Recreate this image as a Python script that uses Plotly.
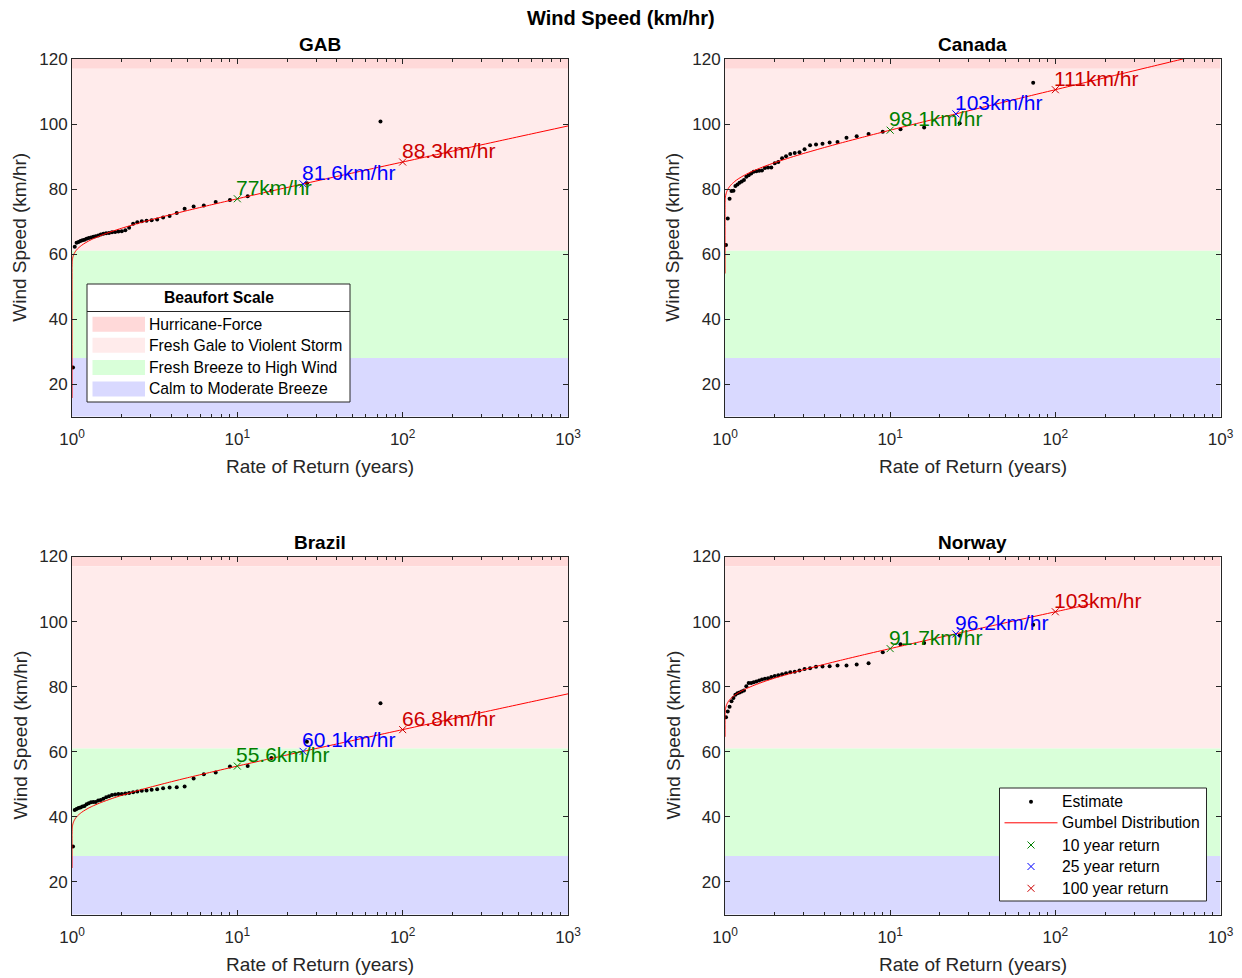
import math
import plotly.graph_objects as go

# ---------------- data ----------------
countries = ["GAB", "Canada", "Brazil", "Norway"]

# empirical return periods (years) of the ranked annual maxima (rank 1 = largest)
estimate_return_period = [73.43, 26.36, 16.06, 11.55, 9.02, 7.40, 6.27, 5.44, 4.80, 4.30,
                          3.894, 3.557, 3.274, 3.032, 2.824, 2.643, 2.483, 2.342, 2.216, 2.102,
                          2.000, 1.907, 1.823, 1.745, 1.674, 1.609, 1.548, 1.492, 1.440, 1.391,
                          1.346, 1.303, 1.263, 1.225, 1.190, 1.156, 1.125, 1.095, 1.066, 1.039, 1.014]

estimate_speed_gab = [100.8, 81.8, 79.5, 77.8, 76.6, 76.0, 74.9, 74.6, 73.9, 72.6,
                      71.7, 71.2, 70.6, 70.4, 70.2, 70.1, 69.8, 69.3, 68.1, 67.3,
                      67.0, 66.9, 66.8, 66.7, 66.5, 66.4, 66.2, 66.0, 65.7, 65.5,
                      65.3, 65.1, 64.9, 64.7, 64.4, 64.2, 64.0, 63.7, 63.5, 62.2, 25.1]
estimate_speed_canada = [112.7, 100.2, 98.9, 98.4, 97.6, 96.9, 96.2, 95.8, 94.5, 94.3,
                         93.9, 93.7, 93.5, 92.2, 91.3, 91.1, 90.8, 90.1, 89.5, 88.3,
                         87.9, 86.6, 86.6, 86.5, 85.7, 85.6, 85.5, 85.3, 84.8, 84.2,
                         83.8, 82.8, 82.3, 81.9, 81.4, 80.9, 79.5, 79.4, 77.0, 70.9, 62.8]
estimate_speed_brazil = [74.9, 63.1, 58.1, 55.6, 55.5, 53.6, 53.1, 51.8, 49.3, 49.1,
                         49.0, 48.8, 48.5, 48.3, 48.1, 48.0, 47.8, 47.6, 47.3, 47.2,
                         47.0, 47.0, 46.9, 46.7, 46.3, 46.0, 45.6, 45.2, 45.0, 44.6,
                         44.6, 44.5, 44.2, 43.9, 43.3, 43.2, 42.9, 42.7, 42.4, 42.1, 30.9]
estimate_speed_norway = [99.0, 95.7, 93.4, 93.0, 90.6, 87.2, 86.8, 86.5, 86.5, 86.3,
                         86.2, 86.1, 85.7, 85.4, 85.0, 84.6, 84.4, 84.1, 83.8, 83.5,
                         83.3, 83.0, 82.6, 82.4, 82.2, 81.9, 81.6, 81.4, 81.1, 81.1,
                         80.1, 78.8, 78.5, 78.2, 78.0, 77.5, 76.5, 75.5, 73.8, 72.4, 70.6]

# fitted Gumbel curve (return period in years, wind speed km/hr)
gumbel_return_period = [1, 1.0001, 1.001, 1.003, 1.01, 1.02, 1.03, 1.045, 1.06, 1.08,
                        1.1, 1.15, 1.2, 1.27, 1.35, 1.5, 1.75, 2, 2.5, 3,
                        4, 5, 7, 10, 15, 25, 40, 60, 100, 160,
                        250, 400, 600, 1000]
gumbel_return_period_norway = [1, 1.0001, 1.001, 1.003, 1.01, 1.02, 1.03, 1.045, 1.06, 1.08,
                               1.1, 1.15, 1.2, 1.27, 1.35, 1.5, 1.75, 2, 2.5, 3,
                               4, 5, 7, 10, 15, 25, 40, 60, 100, 160, 166]
gumbel_speed_gab = [15.7, 55.50, 56.89, 57.72, 58.83, 59.60, 60.11, 60.67, 61.11, 61.58,
                    61.97, 62.76, 63.38, 64.08, 64.74, 65.73, 66.98, 67.94, 69.41, 70.52,
                    72.17, 73.39, 75.17, 77.00, 79.04, 81.56, 83.86, 85.83, 88.30, 90.57,
                    92.72, 94.99, 96.94, 99.40]
gumbel_speed_canada = [54.0, 74.40, 75.93, 76.84, 78.07, 78.91, 79.48, 80.10, 80.58, 81.10,
                       81.53, 82.40, 83.08, 83.85, 84.58, 85.67, 87.05, 88.11, 89.73, 90.95,
                       92.77, 94.12, 96.08, 98.10, 100.34, 103.12, 105.65, 107.83, 110.55, 113.05,
                       115.42, 117.92, 120.07, 122.78]
gumbel_speed_brazil = [24.3, 34.29, 35.66, 36.48, 37.58, 38.34, 38.85, 39.41, 39.84, 40.31,
                       40.70, 41.48, 42.09, 42.79, 43.44, 44.42, 45.66, 46.62, 48.07, 49.17,
                       50.81, 52.02, 53.78, 55.60, 57.62, 60.12, 62.40, 64.35, 66.80, 69.05,
                       71.18, 73.43, 75.36, 77.80]
gumbel_speed_norway = [64.6, 70.20, 71.58, 72.41, 73.52, 74.30, 74.80, 75.37, 75.81, 76.28,
                       76.67, 77.46, 78.07, 78.78, 79.44, 80.43, 81.68, 82.64, 84.11, 85.22,
                       86.87, 88.09, 89.87, 91.70, 93.74, 96.26, 98.56, 100.53, 103.01, 105.28, 105.45]

# return levels
return_years = [10, 25, 100]
return_names = ["10 year return", "25 year return", "100 year return"]
return_speed_gab = [77.0, 81.56, 88.30]
return_speed_canada = [98.10, 103.12, 110.55]
return_speed_brazil = [55.60, 60.12, 66.80]
return_speed_norway = [91.70, 96.20, 103.01]
return_label_gab = ["77km/hr", "81.6km/hr", "88.3km/hr"]
return_label_canada = ["98.1km/hr", "103km/hr", "111km/hr"]
return_label_brazil = ["55.6km/hr", "60.1km/hr", "66.8km/hr"]
return_label_norway = ["91.7km/hr", "96.2km/hr", "103km/hr"]

# Beaufort scale bands (km/hr)
beaufort_names = ["Hurricane-Force", "Fresh Gale to Violent Storm",
                  "Fresh Breeze to High Wind", "Calm to Moderate Breeze"]
beaufort_low = [117, 61, 28, 0]
beaufort_high = [300, 117, 61, 28]

x_tick_values = [1, 10, 100, 1000]
x_tick_labels = ["10<sup>0</sup>", "10<sup>1</sup>", "10<sup>2</sup>", "10<sup>3</sup>"]
x_minor_values = [2, 3, 4, 5, 6, 7, 8, 9, 20, 30, 40, 50, 60, 70, 80, 90,
                  200, 300, 400, 500, 600, 700, 800, 900]
y_tick_values = [20, 40, 60, 80, 100, 120]
x_range_years = [1, 1000]
y_range = [10, 120]

# ---------------- styles ----------------
FONT = "Liberation Sans, Arial, Helvetica, sans-serif"
AX = "#262626"
band_colors = ["rgb(255,217,217)", "rgb(255,235,235)", "rgb(217,255,217)", "rgb(217,217,255)"]
return_colors = ["rgb(0,128,0)", "rgb(0,0,255)", "rgb(204,0,0)"]
curve_color = "rgb(255,0,0)"
PAGE_OFFSET = 8            # the page body margin around the figure
W, H = 1242 - PAGE_OFFSET, 978 - PAGE_OFFSET


def px(x):
    return (x - PAGE_OFFSET) / W


def py(y):
    return 1 - (y - PAGE_OFFSET) / H


estimates = [estimate_speed_gab, estimate_speed_canada, estimate_speed_brazil, estimate_speed_norway]
gumbel_T = [gumbel_return_period, gumbel_return_period, gumbel_return_period, gumbel_return_period_norway]
gumbel_v = [gumbel_speed_gab, gumbel_speed_canada, gumbel_speed_brazil, gumbel_speed_norway]
ret_v = [return_speed_gab, return_speed_canada, return_speed_brazil, return_speed_norway]
ret_l = [return_label_gab, return_label_canada, return_label_brazil, return_label_norway]

# plot-area boxes in window pixels (left, right, top, bottom)
boxes = [(72, 568, 59, 416.5), (725, 1220.5, 59, 416.5),
         (72, 568, 556.5, 914.5), (725, 1220.5, 556.5, 914.5)]

fig = go.Figure()
annotations = []
shapes = []
layout_axes = {}

for i, name in enumerate(countries):
    n = i + 1
    xa = "x" if n == 1 else f"x{n}"
    ya = "y" if n == 1 else f"y{n}"
    for b in range(4):
        fig.add_trace(go.Scatter(
            x=[x_range_years[0], x_range_years[1], x_range_years[1], x_range_years[0], x_range_years[0]],
            y=[beaufort_low[b], beaufort_low[b], beaufort_high[b], beaufort_high[b], beaufort_low[b]],
            fill="toself", fillcolor=band_colors[b], mode="lines", line=dict(width=0, color=band_colors[b]),
            name=beaufort_names[b], showlegend=False, hoverinfo="skip", xaxis=xa, yaxis=ya))
    fig.add_trace(go.Scatter(x=estimate_return_period, y=estimates[i], mode="markers",
                             marker=dict(color="black", size=4), name="Estimate",
                             showlegend=False, xaxis=xa, yaxis=ya))
    fig.add_trace(go.Scatter(x=gumbel_T[i], y=gumbel_v[i], mode="lines",
                             line=dict(color=curve_color, width=1, shape="spline", smoothing=0.6),
                             name="Gumbel Distribution", showlegend=False, xaxis=xa, yaxis=ya))
    for k in range(3):
        fig.add_trace(go.Scatter(x=[return_years[k]], y=[ret_v[i][k]], mode="markers",
                                 marker=dict(symbol="x-thin", size=7,
                                             line=dict(color=return_colors[k], width=1)),
                                 name=return_names[k], showlegend=False, xaxis=xa, yaxis=ya))
        annotations.append(dict(x=math.log10(return_years[k]), y=ret_v[i][k], xref=xa, yref=ya,
                                text=ret_l[i][k], showarrow=False, xanchor="left", yanchor="bottom",
                                xshift=-3, yshift=-2,
                                font=dict(family=FONT, size=21, color=return_colors[k])))

    l, r, t, btm = boxes[i]
    axkey = "" if n == 1 else str(n)
    layout_axes["xaxis" + axkey] = dict(
        type="log", domain=[px(l), px(r)], range=[0, 3], anchor=ya, automargin=False,
        tickvals=x_tick_values, ticktext=x_tick_labels, ticks="inside", ticklen=5,
        ticklabelstandoff=7,
        tickcolor=AX, showline=True, linecolor=AX, linewidth=1, mirror="ticks",
        showgrid=False, zeroline=False, tickfont=dict(family=FONT, size=17, color=AX),
        minor=dict(ticks="inside", ticklen=3, tickcolor=AX, tickvals=x_minor_values, showgrid=False))
    layout_axes["yaxis" + axkey] = dict(
        domain=[py(btm), py(t)], range=y_range, anchor=xa, automargin=False,
        tickvals=y_tick_values, ticks="inside", ticklen=5,
        tickcolor=AX, showline=True, linecolor=AX, linewidth=1, mirror="ticks",
        showgrid=False, zeroline=False, tickfont=dict(family=FONT, size=17, color=AX))
    cx = px((l + r) / 2)
    cy = (t + btm) / 2
    annotations.append(dict(x=cx, y=py(t - 14), xref="paper", yref="paper", text=f"<b>{name}</b>",
                            showarrow=False, xanchor="center", yanchor="middle",
                            font=dict(family=FONT, size=19, color="black")))
    annotations.append(dict(x=cx, y=py(btm + 50), xref="paper", yref="paper",
                            text="Rate of Return (years)", showarrow=False, xanchor="center",
                            yanchor="middle", font=dict(family=FONT, size=19, color=AX)))
    annotations.append(dict(x=px(l - 52), y=py(cy), xref="paper", yref="paper",
                            text="Wind Speed (km/hr)", showarrow=False, textangle=-90,
                            xanchor="center", yanchor="middle", font=dict(family=FONT, size=19, color=AX)))

annotations.append(dict(x=px(621), y=py(18), xref="paper", yref="paper", text="<b>Wind Speed (km/hr)</b>",
                        showarrow=False, xanchor="center", yanchor="middle",
                        font=dict(family=FONT, size=20, color="black")))

# ---------- legend 1: Beaufort Scale (drawn in the GAB panel) ----------
LF = 15.7
shapes.append(dict(type="rect", xref="paper", yref="paper", x0=px(87), x1=px(350), y0=py(402), y1=py(284),
                   fillcolor="white", line=dict(color=AX, width=1), layer="above"))
shapes.append(dict(type="line", xref="paper", yref="paper", x0=px(87), x1=px(350), y0=py(311.5), y1=py(311.5),
                   line=dict(color=AX, width=1), layer="above"))
annotations.append(dict(x=px(218.5), y=py(297.5), xref="paper", yref="paper", text="<b>Beaufort Scale</b>",
                        showarrow=False, xanchor="center", yanchor="middle",
                        font=dict(family=FONT, size=LF, color="black")))
legend1_rows = [324.2, 345.3, 367.5, 389.0]
for b in range(4):
    yc = legend1_rows[b]
    shapes.append(dict(type="rect", xref="paper", yref="paper", x0=px(92.5), x1=px(145), y0=py(yc + 7.5),
                       y1=py(yc - 7.5), fillcolor=band_colors[b], line=dict(width=0), layer="above"))
    annotations.append(dict(x=px(147), y=py(yc), xref="paper", yref="paper", text=beaufort_names[b],
                            showarrow=False, xanchor="left", yanchor="middle",
                            font=dict(family=FONT, size=LF, color="black")))

# ---------- legend 2: series (drawn in the Norway panel) ----------
shapes.append(dict(type="rect", xref="paper", yref="paper", x0=px(999.5), x1=px(1206.5), y0=py(901), y1=py(788),
                   fillcolor="white", line=dict(color=AX, width=1), layer="above"))
legend2_rows = [801.7, 822.8, 845.0, 866.5, 888.3]
legend2_names = ["Estimate", "Gumbel Distribution"] + return_names
gx = 1031
shapes.append(dict(type="circle", xref="paper", yref="paper", x0=px(gx - 2), x1=px(gx + 2),
                   y0=py(legend2_rows[0] + 2), y1=py(legend2_rows[0] - 2), fillcolor="black",
                   line=dict(width=0), layer="above"))
shapes.append(dict(type="line", xref="paper", yref="paper", x0=px(1004.5), x1=px(1057.5),
                   y0=py(legend2_rows[1]), y1=py(legend2_rows[1]), line=dict(color=curve_color, width=1),
                   layer="above"))
for k in range(3):
    yc = legend2_rows[2 + k]
    for sgn in (1, -1):
        shapes.append(dict(type="line", xref="paper", yref="paper", x0=px(gx - 3.5), x1=px(gx + 3.5),
                           y0=py(yc - 3.5 * sgn), y1=py(yc + 3.5 * sgn),
                           line=dict(color=return_colors[k], width=1), layer="above"))
for j, nm in enumerate(legend2_names):
    annotations.append(dict(x=px(1060), y=py(legend2_rows[j]), xref="paper", yref="paper", text=nm,
                            showarrow=False, xanchor="left", yanchor="middle",
                            font=dict(family=FONT, size=LF, color="black")))

fig.update_layout(
    width=W, height=H, margin=dict(l=0, r=0, t=0, b=0, pad=0, autoexpand=False),
    paper_bgcolor="white", plot_bgcolor="white",
    font=dict(family=FONT, color=AX),
    annotations=annotations, shapes=shapes,
    showlegend=False,
    **layout_axes,
)

fig.write_html("out.html")
